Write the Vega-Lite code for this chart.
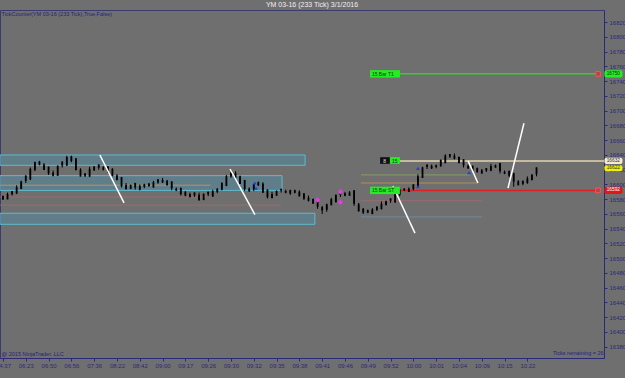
{
"$schema":"https://vega.github.io/schema/vega-lite/v6.json",
"width":604,"height":348,
"autosize":{"type":"none"},
"padding":{"left":0,"top":10,"right":21,"bottom":20},
"background":"#6f6f6f",
"config":{"view":{"stroke":"#3c3c6c","strokeWidth":1,"fill":"#6f6f6f"},"font":"Liberation Sans"},
"title":{"text":"YM 03-16 (233 Tick)  3/1/2016","fontSize":7,"font":"Liberation Sans","color":"#f0f0f0","fontWeight":"normal","anchor":"middle","frame":"group","offset":1,"baseline":"bottom","dx":10,"dy":6},
"datasets":{
"bars":[
{"i":0,"o":16581,"h":16585,"l":16579,"c":16583},{"i":2,"o":16581,"h":16589,"l":16580,"c":16586},{"i":4,"o":16588,"h":16591,"l":16585,"c":16590},{"i":6,"o":16589,"h":16599,"l":16587,"c":16595},{"i":8,"o":16595,"h":16605,"l":16594,"c":16603},{"i":10,"o":16606,"h":16612,"l":16602,"c":16611},{"i":12,"o":16608,"h":16623,"l":16606,"c":16620},{"i":14,"o":16621,"h":16631,"l":16618,"c":16629},{"i":16,"o":16630,"h":16632,"l":16626,"c":16628},{"i":18,"o":16626,"h":16629,"l":16620,"c":16621},
{"i":20,"o":16623,"h":16624,"l":16613,"c":16616},{"i":22,"o":16615,"h":16619,"l":16611,"c":16613},{"i":24,"o":16613,"h":16626,"l":16612,"c":16624},{"i":26,"o":16627,"h":16631,"l":16623,"c":16630},{"i":28,"o":16627,"h":16639,"l":16625,"c":16636},{"i":30,"o":16637,"h":16639,"l":16630,"c":16633},{"i":32,"o":16634,"h":16636,"l":16619,"c":16621},{"i":34,"o":16619,"h":16622,"l":16611,"c":16612},{"i":36,"o":16614,"h":16615,"l":16610,"c":16613},{"i":38,"o":16612,"h":16624,"l":16610,"c":16620},
{"i":40,"o":16620,"h":16625,"l":16619,"c":16623},{"i":42,"o":16626,"h":16627,"l":16620,"c":16624},{"i":44,"o":16621,"h":16625,"l":16619,"c":16622},{"i":46,"o":16623,"h":16625,"l":16616,"c":16619},{"i":48,"o":16620,"h":16622,"l":16611,"c":16613},{"i":50,"o":16611,"h":16614,"l":16606,"c":16607},{"i":52,"o":16609,"h":16610,"l":16596,"c":16599},{"i":54,"o":16598,"h":16602,"l":16593,"c":16595},{"i":56,"o":16595,"h":16600,"l":16594,"c":16598},{"i":58,"o":16601,"h":16602,"l":16593,"c":16597},
{"i":60,"o":16594,"h":16600,"l":16592,"c":16597},{"i":62,"o":16598,"h":16601,"l":16595,"c":16599},{"i":64,"o":16600,"h":16602,"l":16597,"c":16599},{"i":66,"o":16597,"h":16605,"l":16596,"c":16602},{"i":68,"o":16604,"h":16607,"l":16601,"c":16606},{"i":70,"o":16605,"h":16609,"l":16602,"c":16604},{"i":72,"o":16604,"h":16606,"l":16599,"c":16600},{"i":74,"o":16603,"h":16604,"l":16592,"c":16596},{"i":76,"o":16593,"h":16596,"l":16591,"c":16593},{"i":78,"o":16594,"h":16596,"l":16585,"c":16588},
{"i":80,"o":16589,"h":16591,"l":16584,"c":16586},{"i":82,"o":16584,"h":16589,"l":16583,"c":16586},{"i":84,"o":16588,"h":16589,"l":16583,"c":16586},{"i":86,"o":16585,"h":16589,"l":16578,"c":16580},{"i":88,"o":16580,"h":16588,"l":16579,"c":16586},{"i":90,"o":16589,"h":16590,"l":16584,"c":16588},{"i":92,"o":16585,"h":16593,"l":16583,"c":16590},{"i":94,"o":16591,"h":16595,"l":16588,"c":16593},{"i":96,"o":16594,"h":16603,"l":16592,"c":16601},{"i":98,"o":16599,"h":16613,"l":16598,"c":16610},
{"i":100,"o":16612,"h":16616,"l":16609,"c":16615},{"i":102,"o":16614,"h":16618,"l":16608,"c":16610},{"i":104,"o":16610,"h":16612,"l":16601,"c":16602},{"i":106,"o":16605,"h":16606,"l":16591,"c":16595},{"i":108,"o":16592,"h":16596,"l":16590,"c":16593},{"i":110,"o":16594,"h":16601,"l":16591,"c":16599},{"i":112,"o":16600,"h":16604,"l":16598,"c":16602},{"i":114,"o":16600,"h":16603,"l":16589,"c":16590},{"i":116,"o":16592,"h":16593,"l":16581,"c":16584},{"i":118,"o":16583,"h":16590,"l":16581,"c":16586},
{"i":120,"o":16586,"h":16592,"l":16585,"c":16590},{"i":122,"o":16593,"h":16594,"l":16589,"c":16593},{"i":124,"o":16590,"h":16593,"l":16588,"c":16590},{"i":126,"o":16591,"h":16593,"l":16586,"c":16589},{"i":128,"o":16590,"h":16593,"l":16588,"c":16591},{"i":130,"o":16589,"h":16592,"l":16584,"c":16585},{"i":132,"o":16587,"h":16588,"l":16579,"c":16582},{"i":134,"o":16581,"h":16585,"l":16577,"c":16579},{"i":136,"o":16579,"h":16581,"l":16574,"c":16575},{"i":138,"o":16578,"h":16579,"l":16567,"c":16571},
{"i":140,"o":16568,"h":16571,"l":16560,"c":16566},{"i":142,"o":16567,"h":16574,"l":16563,"c":16572},{"i":144,"o":16573,"h":16582,"l":16572,"c":16579},{"i":146,"o":16577,"h":16586,"l":16576,"c":16585},{"i":148,"o":16587,"h":16592,"l":16583,"c":16588},{"i":150,"o":16587,"h":16590,"l":16584,"c":16586},{"i":152,"o":16586,"h":16591,"l":16585,"c":16588},{"i":154,"o":16591,"h":16592,"l":16571,"c":16575},{"i":156,"o":16572,"h":16575,"l":16563,"c":16565},{"i":158,"o":16566,"h":16568,"l":16560,"c":16563},
{"i":160,"o":16564,"h":16566,"l":16561,"c":16563},{"i":162,"o":16561,"h":16568,"l":16560,"c":16565},{"i":164,"o":16567,"h":16570,"l":16564,"c":16569},{"i":166,"o":16568,"h":16577,"l":16566,"c":16573},{"i":168,"o":16573,"h":16578,"l":16572,"c":16576},{"i":170,"o":16579,"h":16581,"l":16575,"c":16580},{"i":172,"o":16577,"h":16589,"l":16575,"c":16586},{"i":174,"o":16587,"h":16594,"l":16584,"c":16592},{"i":176,"o":16593,"h":16595,"l":16591,"c":16593},{"i":178,"o":16591,"h":16596,"l":16590,"c":16593},
{"i":180,"o":16595,"h":16600,"l":16592,"c":16599},{"i":182,"o":16598,"h":16614,"l":16596,"c":16610},{"i":184,"o":16610,"h":16624,"l":16609,"c":16622},{"i":186,"o":16625,"h":16627,"l":16621,"c":16626},{"i":188,"o":16623,"h":16627,"l":16621,"c":16624},{"i":190,"o":16625,"h":16627,"l":16622,"c":16625},{"i":192,"o":16626,"h":16634,"l":16624,"c":16632},{"i":194,"o":16630,"h":16641,"l":16629,"c":16638},{"i":196,"o":16640,"h":16641,"l":16636,"c":16639},{"i":198,"o":16638,"h":16642,"l":16634,"c":16636},
{"i":200,"o":16636,"h":16638,"l":16629,"c":16630},{"i":202,"o":16633,"h":16634,"l":16623,"c":16627},{"i":204,"o":16624,"h":16627,"l":16621,"c":16623},{"i":206,"o":16624,"h":16626,"l":16617,"c":16620},{"i":208,"o":16621,"h":16623,"l":16616,"c":16618},{"i":210,"o":16616,"h":16621,"l":16615,"c":16618},{"i":212,"o":16620,"h":16622,"l":16617,"c":16621},{"i":214,"o":16620,"h":16628,"l":16618,"c":16624},{"i":216,"o":16624,"h":16627,"l":16623,"c":16625},{"i":218,"o":16628,"h":16629,"l":16615,"c":16619},
{"i":220,"o":16616,"h":16619,"l":16614,"c":16616},{"i":222,"o":16617,"h":16619,"l":16610,"c":16613},{"i":224,"o":16614,"h":16616,"l":16597,"c":16605},{"i":226,"o":16603,"h":16606,"l":16599,"c":16600},{"i":228,"o":16602,"h":16605,"l":16599,"c":16604},{"i":230,"o":16603,"h":16611,"l":16601,"c":16607},{"i":232,"o":16607,"h":16614,"l":16606,"c":16612},{"i":234,"o":16615,"h":16623,"l":16611,"c":16622}
],
"zones":[
{"x1":-1.3,"x2":132.5,"y1":16640,"y2":16626},
{"x1":-1.3,"x2":122.4,"y1":16612,"y2":16592},
{"x1":-1.3,"x2":136.8,"y1":16561,"y2":16546}
],
"thin":[
{"x1":-1.3,"x2":91,"y1":16599,"kind":"pivot"},
{"x1":-1.3,"x2":92,"y1":16583,"kind":"low"},
{"x1":-1.3,"x2":122,"y1":16572,"kind":"low"},
{"x1":157,"x2":208,"y1":16602,"kind":"pivot"},
{"x1":157,"x2":205,"y1":16613,"kind":"fib"},
{"x1":157,"x2":210,"y1":16578,"kind":"low"},
{"x1":157,"x2":210,"y1":16556,"kind":"ref"}
],
"thick":[
{"x1":161,"x2":261,"y1":16750,"kind":"target"},
{"x1":174.1,"x2":263.6,"y1":16632,"kind":"level"},
{"x1":174,"x2":261,"y1":16592,"kind":"stop"}
],
"diag":[
{"x1":42.5,"x2":53.1,"y1":16640,"y2":16575},
{"x1":99.6,"x2":110.5,"y1":16621,"y2":16559},
{"x1":171,"x2":180.7,"y1":16598,"y2":16534},
{"x1":204,"x2":208.3,"y1":16632,"y2":16602},
{"x1":221.5,"x2":228.5,"y1":16595,"y2":16683}
],
"diamonds":[{"x":138,"y":16579},{"x":148,"y":16590},{"x":148,"y":16576}],
"arrows":[{"x":110.5,"y":16602},{"x":111,"y":16595},{"x":182,"y":16597},{"x":182,"y":16622},{"x":204.4,"y":16616}],
"squares":[{"x":261,"y":16750},{"x":261,"y":16592}],
"boxes":[
{"x1":161,"x2":174.1,"y1":16755,"y2":16745,"kind":"green","t":"15  Bar T1","tx":161.8,"ty":16750},
{"x1":161,"x2":174.1,"y1":16597,"y2":16587,"kind":"green","t":"15  Bar ST","tx":161.8,"ty":16592},
{"x1":165.4,"x2":169.7,"y1":16637,"y2":16628,"kind":"black","t":"8","tx":166.8,"ty":16632.5},
{"x1":169.7,"x2":174.1,"y1":16637,"y2":16628,"kind":"green","t":"15","tx":170.6,"ty":16632.5}
],
"tags":[
{"x1":263.8,"x2":271.7,"y1":16755,"y2":16745,"kind":"tg","t":"16750","tx":267.7,"ty":16750},
{"x1":263.8,"x2":271.7,"y1":16636.3,"y2":16627.9,"kind":"tl","t":"16632","tx":267.7,"ty":16632},
{"x1":263.8,"x2":271.7,"y1":16626.2,"y2":16617.8,"kind":"ty","t":"16622","tx":267.7,"ty":16622},
{"x1":263.8,"x2":271.7,"y1":16597,"y2":16587,"kind":"tr","t":"16592","tx":267.7,"ty":16592}
],
"notes":[
{"t":"TickCounter(YM 03-16 (233 Tick),True,False)","x":-0.6,"y":16831},
{"t":"@ 2015 NinjaTrader, LLC","x":-0.6,"y":16370},
{"t":"Ticks remaining = 26","x":241.2,"y":16372}
]
},
"layer":[
{"data":{"name":"zones"},"mark":{"type":"rect","fill":"#4a98b8","fillOpacity":0.38,"stroke":"#5cbcd0","strokeWidth":1},
 "encoding":{
  "x":{"field":"x1","type":"quantitative","scale":{"domain":[-1.3,263.6],"nice":false,"zero":false},
   "axis":{"orient":"bottom","values":[0,10,20,30,40,50,60,70,80,90,100,110,120,130,140,150,160,170,180,190,200,210,220,230],
   "labelExpr":"['04:37','06:23','06:50','06:56','07:36','08:22','08:42','09:00','09:17','09:26','09:30','09:32','09:35','09:38','09:41','09:46','09:49','09:52','10:00','10:01','10:04','10:09','10:15','10:22'][round(datum.value/10)]",
   "grid":false,"title":null,"domainColor":"#2a2a78","tickColor":"#2a2a78","tickSize":3,"labelColor":"#2a2a78","labelFontSize":6,"labelFont":"Liberation Sans","labelPadding":1,"labelFlush":false,"labelOverlap":false,"labelBound":false}},
  "x2":{"field":"x2"},
  "y":{"field":"y1","type":"quantitative","scale":{"domain":[16364.7,16836.6],"nice":false,"zero":false},
   "axis":{"orient":"right","values":[16380,16400,16420,16440,16460,16480,16500,16520,16540,16560,16580,16600,16620,16640,16660,16680,16700,16720,16740,16760,16780,16800,16820],
   "format":"d","grid":false,"title":null,"domainColor":"#2a2a78","tickColor":"#2a2a78","tickSize":3,"labelColor":"#2a2a78","labelFontSize":6,"labelFont":"Liberation Sans","labelPadding":2,"labelOverlap":false,"labelBound":false}},
  "y2":{"field":"y2"}}},
{"data":{"name":"thin"},"mark":{"type":"rule","strokeWidth":1,"opacity":0.8},
 "encoding":{"x":{"field":"x1","type":"quantitative","axis":null,"scale":{"domain":[-1.3,263.6],"nice":false,"zero":false}},"x2":{"field":"x2"},
  "y":{"field":"y1","type":"quantitative","axis":null,"scale":{"domain":[16364.7,16836.6],"nice":false,"zero":false}},
  "color":{"field":"kind","type":"nominal","legend":null,"scale":{"domain":["pivot","low","fib","ref"],"range":["#c89a50","#a86870","#88aa66","#7090a8"]}}}},
{"data":{"name":"thick"},"mark":{"type":"rule","strokeWidth":1.5},
 "encoding":{"x":{"field":"x1","type":"quantitative","axis":null,"scale":{"domain":[-1.3,263.6],"nice":false,"zero":false}},"x2":{"field":"x2"},
  "y":{"field":"y1","type":"quantitative","axis":null,"scale":{"domain":[16364.7,16836.6],"nice":false,"zero":false}},
  "color":{"field":"kind","type":"nominal","legend":null,"scale":{"domain":["target","level","stop"],"range":["#30d030","#e2d2ae","#e02020"]}}}},
{"data":{"name":"bars"},"mark":{"type":"rule","color":"#000000","strokeWidth":1},
 "encoding":{"x":{"field":"i","type":"quantitative","axis":null,"scale":{"domain":[-1.3,263.6],"nice":false,"zero":false}},
  "y":{"field":"l","type":"quantitative","axis":null,"scale":{"domain":[16364.7,16836.6],"nice":false,"zero":false}},"y2":{"field":"h"}}},
{"data":{"name":"bars"},"mark":{"type":"rule","color":"#000000","strokeWidth":1.8,"strokeCap":"square"},
 "encoding":{"x":{"field":"i","type":"quantitative","axis":null,"scale":{"domain":[-1.3,263.6],"nice":false,"zero":false}},
  "y":{"field":"o","type":"quantitative","axis":null,"scale":{"domain":[16364.7,16836.6],"nice":false,"zero":false}},"y2":{"field":"c"}}},
{"data":{"name":"diag"},"mark":{"type":"rule","color":"#ffffff","strokeWidth":1.5},
 "encoding":{"x":{"field":"x1","type":"quantitative","axis":null,"scale":{"domain":[-1.3,263.6],"nice":false,"zero":false}},"x2":{"field":"x2"},
  "y":{"field":"y1","type":"quantitative","axis":null,"scale":{"domain":[16364.7,16836.6],"nice":false,"zero":false}},"y2":{"field":"y2"}}},
{"data":{"name":"diamonds"},"mark":{"type":"point","shape":"diamond","filled":true,"color":"#e040e0","size":30,"opacity":1},
 "encoding":{"x":{"field":"x","type":"quantitative","axis":null,"scale":{"domain":[-1.3,263.6],"nice":false,"zero":false}},
  "y":{"field":"y","type":"quantitative","axis":null,"scale":{"domain":[16364.7,16836.6],"nice":false,"zero":false}}}},
{"data":{"name":"arrows"},"mark":{"type":"point","shape":"triangle-up","filled":true,"color":"#2040e0","size":14,"opacity":1},
 "encoding":{"x":{"field":"x","type":"quantitative","axis":null,"scale":{"domain":[-1.3,263.6],"nice":false,"zero":false}},
  "y":{"field":"y","type":"quantitative","axis":null,"scale":{"domain":[16364.7,16836.6],"nice":false,"zero":false}}}},
{"data":{"name":"squares"},"mark":{"type":"point","shape":"square","filled":true,"fill":"#b04848","stroke":"#ff5050","strokeWidth":1,"size":22,"opacity":1},
 "encoding":{"x":{"field":"x","type":"quantitative","axis":null,"scale":{"domain":[-1.3,263.6],"nice":false,"zero":false}},
  "y":{"field":"y","type":"quantitative","axis":null,"scale":{"domain":[16364.7,16836.6],"nice":false,"zero":false}}}},
{"data":{"name":"boxes"},"mark":{"type":"rect"},
 "encoding":{"x":{"field":"x1","type":"quantitative","axis":null,"scale":{"domain":[-1.3,263.6],"nice":false,"zero":false}},"x2":{"field":"x2"},
  "y":{"field":"y1","type":"quantitative","axis":null,"scale":{"domain":[16364.7,16836.6],"nice":false,"zero":false}},"y2":{"field":"y2"},
  "color":{"field":"kind","type":"nominal","legend":null,"scale":{"domain":["green","black"],"range":["#22ee22","#111111"]}}}},
{"data":{"name":"boxes"},"mark":{"type":"text","align":"left","baseline":"middle","fontSize":5,"font":"Liberation Sans"},
 "encoding":{"x":{"field":"tx","type":"quantitative","axis":null,"scale":{"domain":[-1.3,263.6],"nice":false,"zero":false}},
  "y":{"field":"ty","type":"quantitative","axis":null,"scale":{"domain":[16364.7,16836.6],"nice":false,"zero":false}},
  "text":{"field":"t"},
  "color":{"field":"kind","type":"nominal","legend":null,"scale":{"domain":["green","black"],"range":["#104010","#e0e0e0"]}}}},
{"data":{"name":"tags"},"mark":{"type":"rect","cornerRadius":2},
 "encoding":{"x":{"field":"x1","type":"quantitative","axis":null,"scale":{"domain":[-1.3,263.6],"nice":false,"zero":false}},"x2":{"field":"x2"},
  "y":{"field":"y1","type":"quantitative","axis":null,"scale":{"domain":[16364.7,16836.6],"nice":false,"zero":false}},"y2":{"field":"y2"},
  "color":{"field":"kind","type":"nominal","legend":null,"scale":{"domain":["tg","tl","ty","tr"],"range":["#22ee22","#f2ead2","#eeee10","#e01818"]}}}},
{"data":{"name":"tags"},"mark":{"type":"text","align":"center","baseline":"middle","fontSize":4.8,"font":"Liberation Sans"},
 "encoding":{"x":{"field":"tx","type":"quantitative","axis":null,"scale":{"domain":[-1.3,263.6],"nice":false,"zero":false}},
  "y":{"field":"ty","type":"quantitative","axis":null,"scale":{"domain":[16364.7,16836.6],"nice":false,"zero":false}},
  "text":{"field":"t"},
  "color":{"field":"kind","type":"nominal","legend":null,"scale":{"domain":["tg","tl","ty","tr"],"range":["#103010","#303030","#303010","#ffffff"]}}}},
{"data":{"name":"notes"},"mark":{"type":"text","align":"left","baseline":"middle","fontSize":5.5,"font":"Liberation Sans","color":"#24247a"},
 "encoding":{"x":{"field":"x","type":"quantitative","axis":null,"scale":{"domain":[-1.3,263.6],"nice":false,"zero":false}},
  "y":{"field":"y","type":"quantitative","axis":null,"scale":{"domain":[16364.7,16836.6],"nice":false,"zero":false}},
  "text":{"field":"t"}}}
],
"resolve":{"scale":{"color":"independent"},"axis":{"x":"independent","y":"independent"}}
}
